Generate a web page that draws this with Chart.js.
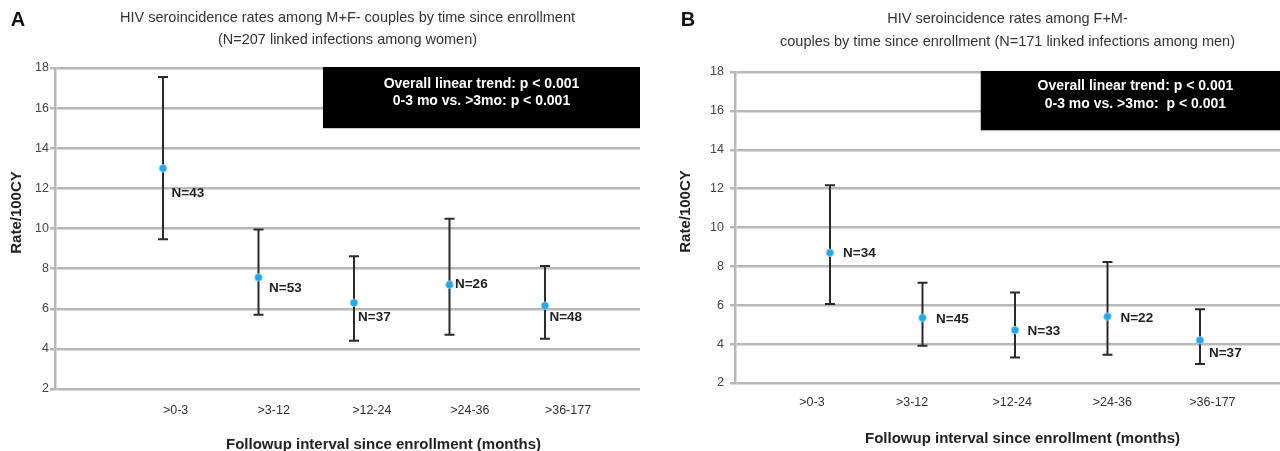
<!DOCTYPE html>
<html><head><meta charset="utf-8">
<script src="https://cdn.jsdelivr.net/npm/chart.js@4.4.1/dist/chart.umd.min.js"></script>
<style>
html,body{margin:0;padding:0;background:#fff;}
#wrap{position:relative;width:1280px;height:451px;overflow:hidden;background:#fff;}
.panel{position:absolute;top:0;width:640px;height:451px;}
canvas{display:block;}
</style></head><body>
<div id="wrap">
<div class="panel" style="left:0"><canvas id="cA" width="640" height="451"></canvas></div>
<div class="panel" style="left:640px"><canvas id="cB" width="640" height="451"></canvas></div>
</div>
<script>
// ---- data ----
const categories = ['>0-3', '>3-12', '>12-24', '>24-36', '>36-177'];
const yTicks = [2, 4, 6, 8, 10, 12, 14, 16, 18];

const rateA  = [13.0, 7.56, 6.3, 7.2, 6.15];
const lowerA = [9.47, 5.7, 4.4, 4.7, 4.5];
const upperA = [17.55, 9.95, 8.62, 10.49, 8.13];
const nA     = [43, 53, 37, 26, 48];

const rateB  = [8.7, 5.35, 4.72, 5.42, 4.2];
const lowerB = [6.06, 3.91, 3.31, 3.45, 2.98];
const upperB = [12.17, 7.16, 6.65, 8.22, 5.8];
const nB     = [34, 45, 33, 22, 37];

const titleA = ['HIV seroincidence rates among M+F- couples by time since enrollment',
                '(N=207 linked infections among women)'];
const titleB = ['HIV seroincidence rates among F+M-',
                'couples by time since enrollment (N=171 linked infections among men)'];
const boxText = ['Overall linear trend: p < 0.001', '0-3 mo vs. >3mo: p < 0.001'];
const boxTextB = ['Overall linear trend: p < 0.001', '0-3 mo vs. >3mo:  p < 0.001'];
const xTitle = 'Followup interval since enrollment (months)';
const yTitle = 'Rate/100CY';

const FONT = '"Liberation Sans", Arial, Helvetica, sans-serif';

const overlay = {
  id: 'overlay',
  beforeDatasetsDraw(chart, args, o) {
    const {ctx, chartArea} = chart;
    const xs = chart.scales.x, ys = chart.scales.y;
    ctx.save();
    // stats box
    const bx = xs.getPixelForValue(o.boxX);
    const by1 = ys.getPixelForValue(o.boxYTop), by2 = ys.getPixelForValue(o.boxYBottom);
    ctx.fillStyle = '#000';
    ctx.fillRect(bx, by1 - 1, chartArea.right - bx, by2 - by1 + 1);
    ctx.fillStyle = '#fff';
    ctx.font = 'bold 14px ' + FONT;
    ctx.textAlign = 'center';
    ctx.textBaseline = 'middle';
    const cx = (bx + chartArea.right) / 2 + o.boxTextDx;
    o.boxText.forEach((t, i) => ctx.fillText(t, cx, by1 + o.boxTextY[i]));
    // error bars
    ctx.strokeStyle = '#2a2a2a';
    ctx.lineWidth = 2;
    o.lower.forEach((lo, i) => {
      const px = xs.getPixelForValue(i + 1);
      const yl = ys.getPixelForValue(lo), yu = ys.getPixelForValue(o.upper[i]);
      ctx.beginPath();
      ctx.moveTo(px, yl); ctx.lineTo(px, yu);
      ctx.moveTo(px - 5, yl); ctx.lineTo(px + 5, yl);
      ctx.moveTo(px - 5, yu); ctx.lineTo(px + 5, yu);
      ctx.stroke();
    });
    ctx.restore();
  },
  afterDatasetsDraw(chart, args, o) {
    const {ctx} = chart;
    const xs = chart.scales.x, ys = chart.scales.y;
    ctx.save();
    ctx.fillStyle = '#222';
    ctx.font = 'bold 13.5px ' + FONT;
    ctx.textAlign = 'left';
    ctx.textBaseline = 'middle';
    o.counts.forEach((n, i) => {
      const px = xs.getPixelForValue(i + 1);
      const py = ys.getPixelForValue(o.rate[i]);
      ctx.fillText('N=' + n, px + o.labelOff[i][0], py + o.labelOff[i][1]);
    });
    ctx.restore();
  },
  afterDraw(chart, args, o) {
    const {ctx, chartArea} = chart;
    ctx.save();
    ctx.fillStyle = '#111';
    ctx.font = 'bold 20px ' + FONT;
    ctx.textAlign = 'center';
    ctx.textBaseline = 'middle';
    ctx.fillText(o.letter, o.letterPos[0], o.letterPos[1]);
    // axis titles
    ctx.fillStyle = '#222';
    ctx.font = 'bold 15px ' + FONT;
    ctx.fillText(o.xTitle, (chartArea.left + chartArea.right) / 2 + o.xTitleDx, chartArea.bottom + o.xTitleDy);
    ctx.translate(o.yTitleX, (chartArea.top + chartArea.bottom) / 2 + o.yTitleDy);
    ctx.rotate(-Math.PI / 2);
    ctx.fillText(o.yTitle, 0, 0);
    ctx.restore();
  }
};

function makeChart(id, c) {
  return new Chart(document.getElementById(id), {
    type: 'scatter',
    data: {
      datasets: [{
        data: c.rate.map((v, i) => ({x: i + 1, y: v})),
        pointRadius: 3.8, pointHoverRadius: 3.8,
        pointBackgroundColor: '#2aa6e4', pointBorderColor: '#8fd0f0', pointBorderWidth: 0.8,
        showLine: false
      }]
    },
    options: {
      responsive: false, animation: false, events: [],
      layout: {autoPadding: false, padding: {left: 0, top: 0, bottom: 0, right: 0}},
      plugins: {
        legend: {display: false},
        tooltip: {enabled: false},
        title: {
          display: true, text: c.title, fullSize: false, color: '#333',
          font: {family: FONT, size: 14.5, weight: 'normal', lineHeight: c.titleLH},
          padding: {top: c.titleTop, bottom: c.titleBottom}
        },
        overlay: {
          lower: c.lower, upper: c.upper, rate: c.rate, counts: c.counts,
          labelOff: c.labelOff, boxX: c.boxX, boxYTop: 18, boxYBottom: 15,
          boxText: c.boxText, boxTextY: c.boxTextY, boxTextDx: c.boxTextDx,
          letter: c.letter, letterPos: c.letterPos,
          xTitle: xTitle, xTitleDx: c.xTitleDx, xTitleDy: 55.5,
          yTitle: yTitle, yTitleX: c.yTitleX, yTitleDy: -16
        }
      },
      scales: {
        x: {type: 'linear', display: false, min: c.xMin, max: c.xMax},
        xl: {
          type: 'linear', position: 'bottom', min: c.lMin, max: c.lMax,
          afterBuildTicks: a => { a.ticks = categories.map((_, i) => ({value: i + 1})); },
          afterFit: a => { a.height = c.xAxisH; a.paddingLeft = 0; a.paddingRight = 0; },
          grid: {display: false, drawTicks: false},
          border: {display: false},
          ticks: {
            callback: v => categories[v - 1], color: '#333',
            font: {family: FONT, size: 12.5}, padding: c.xTickPad,
            autoSkip: false, maxRotation: 0, minRotation: 0
          }
        },
        y: {
          min: 2, max: 18,
          afterBuildTicks: a => { a.ticks = yTicks.map(v => ({value: v})); },
          afterFit: a => { a.width = c.yAxisW; },
          grid: {color: '#b8b8b8', lineWidth: 2.5, tickLength: 5},
          border: {color: '#b8b8b8', width: 2.5},
          ticks: {color: '#444', font: {family: FONT, size: 12.5}, padding: c.yTickPad}
        }
      }
    },
    plugins: [overlay]
  });
}

makeChart('cA', {
  rate: rateA, lower: lowerA, upper: upperA, counts: nA, title: titleA,
  boxText: boxText, boxTextY: [16, 33], boxTextDx: 0, boxX: 2.675,
  labelOff: [[8.5, 25], [10.5, 11], [4, 14.5], [5.5, -0.5], [4.5, 11.5]],
  letter: 'A', letterPos: [18, 20],
  xMin: -0.131, xMax: 5.995, lMin: -0.229, lMax: 5.734,
  yAxisW: 55, yTickPad: 1, xAxisH: 62, xTickPad: 14,
  xTitleDx: 36, yTitleX: 17,
  titleTop: 7, titleBottom: 17, titleLH: 22 / 14.5
});
makeChart('cB', {
  rate: rateB, lower: lowerB, upper: upperB, counts: nB, title: titleB,
  boxText: boxTextB, boxTextY: [14, 32], boxTextDx: 5, boxX: 2.63,
  labelOff: [[13, 1], [13.5, 1.5], [12.5, 1.5], [13, 1.3], [9, 12.7]],
  letter: 'B', letterPos: [48, 20],
  xMin: -0.027, xMax: 5.865, lMin: 0.231, lMax: 5.675,
  yAxisW: 95, yTickPad: 6, xAxisH: 68, xTickPad: 12,
  xTitleDx: 15, yTitleX: 46,
  titleTop: 7, titleBottom: 19, titleLH: 23 / 14.5
});
</script>
</body></html>
